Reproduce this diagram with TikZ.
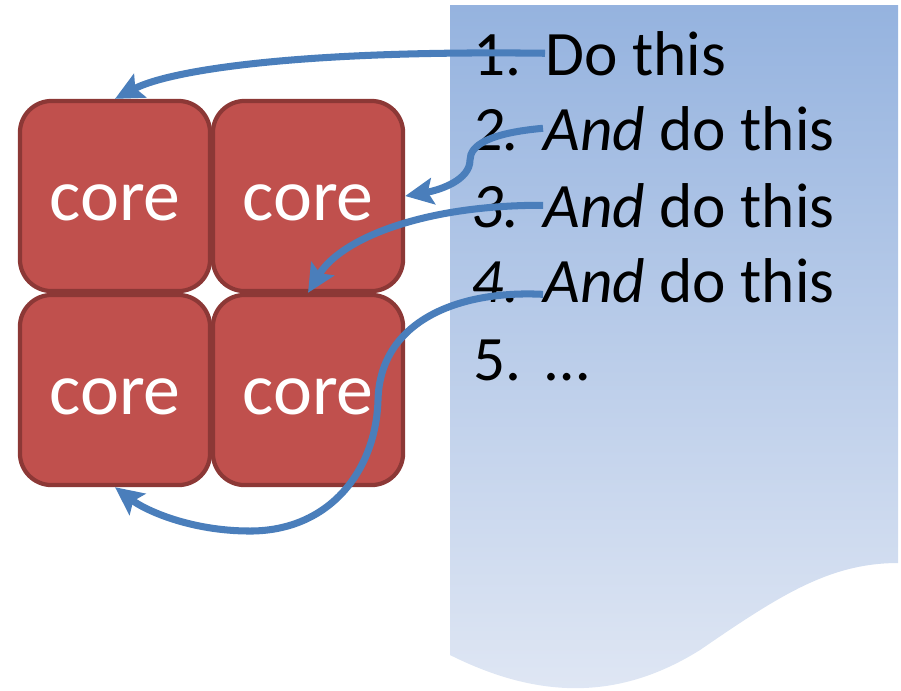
\documentclass[tikz,border=0pt]{standalone}
\usepackage{fontspec}
\setmainfont{Carlito}
\usetikzlibrary{arrows.meta}
\definecolor{corered}{RGB}{192,80,77}
\definecolor{coreedge}{RGB}{140,56,54}
\definecolor{arrowblue}{RGB}{74,126,187}
\definecolor{pagetop}{RGB}{149,179,223}
\definecolor{pagebot}{RGB}{224,231,244}
\begin{document}
\begin{tikzpicture}[x=0.01cm,y=-0.01cm,
   core/.style={draw=coreedge,line width=1.2pt,fill=corered,rounded corners=9pt,minimum size=1.9cm,text=white,text height=14pt,text depth=0pt,font=\fontsize{21}{25}\selectfont},
   item/.style={anchor=base west,inner sep=0pt,font=\fontsize{18}{22}\selectfont},
   flow/.style={draw=arrowblue,line width=2pt,-{Stealth[length=8pt,width=7.5pt,inset=1.5pt]}}]
   \useasboundingbox (0,0) rectangle (901,690);
   % the page
   \shade[top color=pagetop,bottom color=pagebot] (450,5) -- (898,5) -- (898,563) .. controls (830,563) and (780,595) .. (700,650) .. controls (620,700) and (540,700) .. (450,655) -- cycle;
   % four cores
   \node[core] (cA) at (115,196) {core};
   \node[core] (cB) at (308,196) {core};
   \node[core] (cC) at (115,390) {core};
   \node[core] (cD) at (308,390) {core};
   % the list
   \node[item] (n1) at (473,75) {1.};
   \node[item] (t1) at (545,75) {Do this};
   \node[item] (n2) at (471,150) {\textit{2.}};
   \node[item] (t2) at (543,150) {\textit{And} do this};
   \node[item] (n3) at (471,227) {\textit{3.}};
   \node[item] (t3) at (543,227) {\textit{And} do this};
   \node[item] (n4) at (471,302) {\textit{4.}};
   \node[item] (t4) at (543,302) {\textit{And} do this};
   \node[item] (n5) at (473,380) {5.};
   \node[item] (t5) at (545,380) {…};
   % who does what
   \draw[flow] (t1.west) .. controls (300,50) and (170,70) .. (cA.north);
   \draw[flow] (t2.west) .. controls (490,133) and (470,145) .. (470,160) .. controls (470,180) and (440,190) .. (cB.east);
   \draw[flow] (t3.west) .. controls (420,205) and (340,240) .. (cD.north);
   \draw[flow] ([yshift=-4pt]t4.west) .. controls (460,290) and (380,320) .. (378,400) .. controls (376,470) and (330,531) .. (250,531) .. controls (190,531) and (145,510) .. (cC.south);
\end{tikzpicture}
\end{document}
